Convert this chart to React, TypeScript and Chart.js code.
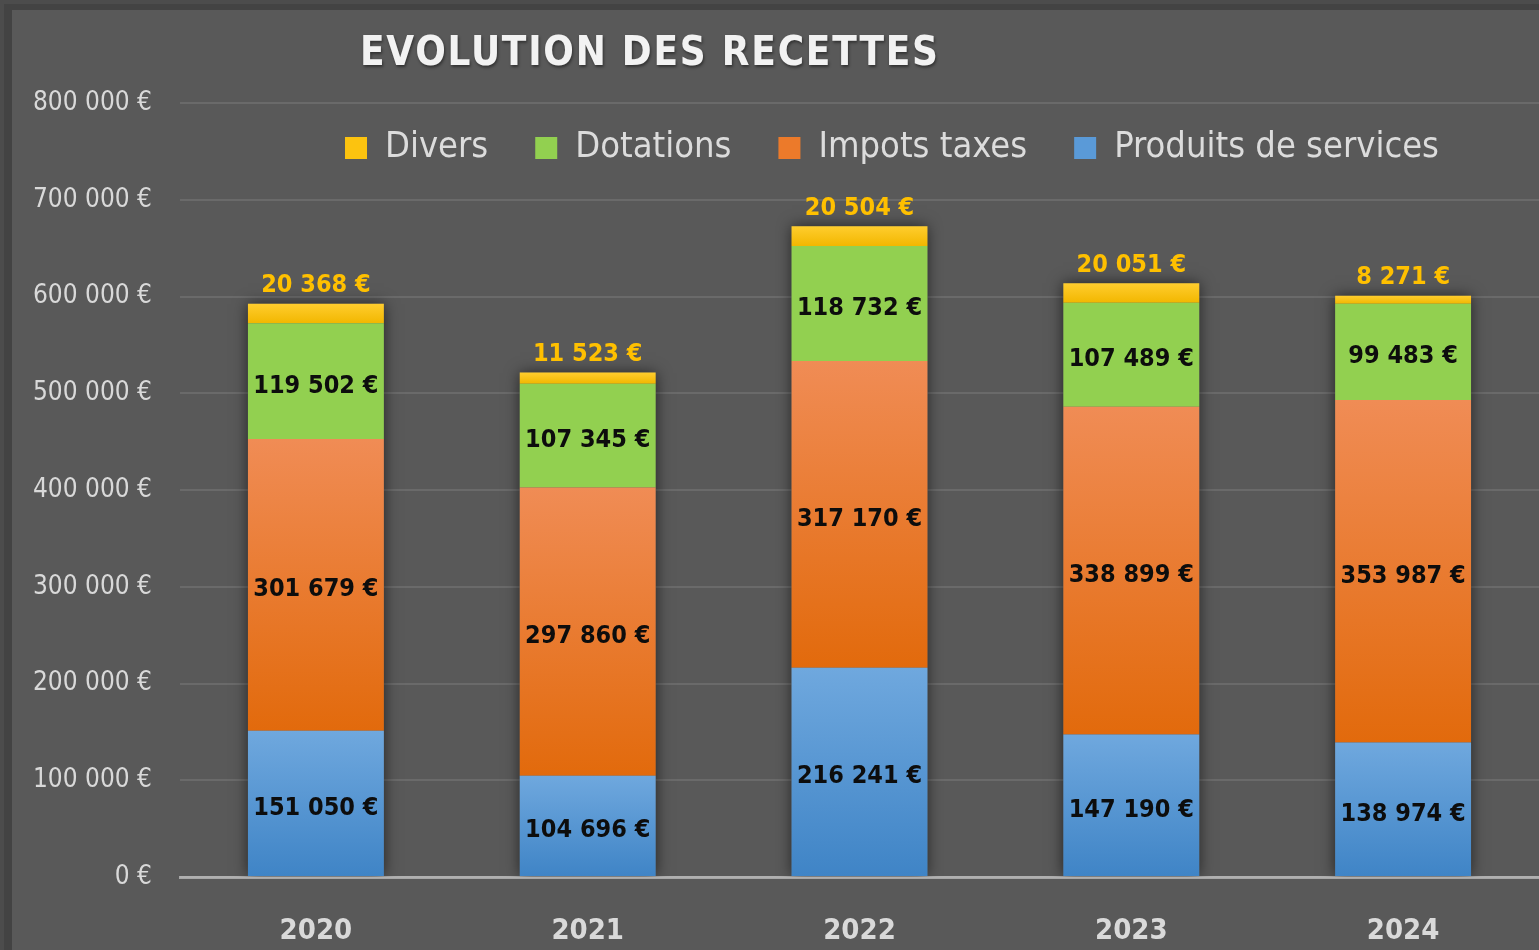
import React, { useEffect, useRef } from "react";
import { Chart, registerables } from "chart.js";

Chart.register(...registerables);

// ---- Data ----
const years = ["2020", "2021", "2022", "2023", "2024"];
const produitsServices = [151050, 104696, 216241, 147190, 138974];
const impotsTaxes = [301679, 297860, 317170, 338899, 353987];
const dotations = [119502, 107345, 118732, 107489, 99483];
const divers = [20368, 11523, 20504, 20051, 8271];

const seriesNames = ["Produits de services", "Impots taxes", "Dotations", "Divers"];
const legendColors = ["#5a9ad8", "#ec7a2a", "#92d050", "#fcc30f"];
const titleText = "EVOLUTION DES RECETTES";
const yMax = 800000;
const yStep = 100000;

const FONT = '"DejaVu Sans Condensed", "Liberation Sans Narrow", "Liberation Sans", sans-serif';

const fmt = (v: number) =>
  String(Math.round(v)).replace(/\B(?=(\d{3})+(?!\d))/g, " ") + " €";

// vertical gradient per stacked segment
const gradientFill = (topColor: string, bottomColor: string, flat: string) => (c: any) => {
  const chart = c.chart;
  if (c.type !== "data" || !chart.chartArea || !chart.scales || !chart.scales.y) return flat;
  const i = c.dataIndex;
  const d = c.datasetIndex;
  let base = 0;
  for (let k = 0; k < d; k++) base += chart.data.datasets[k].data[i] as number;
  const top = base + (chart.data.datasets[d].data[i] as number);
  const y0 = chart.scales.y.getPixelForValue(top);
  const y1 = chart.scales.y.getPixelForValue(base);
  if (!isFinite(y0) || !isFinite(y1) || y0 === y1) return flat;
  const g = chart.ctx.createLinearGradient(0, y0, 0, y1);
  g.addColorStop(0, topColor);
  g.addColorStop(1, bottomColor);
  return g;
};

const shadowPlugin = {
  id: "barShadow",
  beforeDatasetsDraw(chart: any) {
    const ctx = chart.ctx;
    const n = chart.data.datasets.length;
    const bottomMeta = chart.getDatasetMeta(0);
    const topMeta = chart.getDatasetMeta(n - 1);
    const area = chart.chartArea;
    ctx.save();
    ctx.beginPath();
    ctx.rect(area.left, 0, area.right - area.left, area.bottom);
    ctx.clip();
    ctx.shadowColor = "rgba(0,0,0,0.6)";
    ctx.shadowBlur = 14;
    ctx.fillStyle = "#595959";
    bottomMeta.data.forEach((el: any, i: number) => {
      const p = el.getProps(["x", "width", "base"], true);
      const t = topMeta.data[i].getProps(["y"], true);
      ctx.fillRect(p.x - p.width / 2, t.y, p.width, p.base - t.y);
    });
    ctx.restore();
  },
};

const valueLabelsPlugin = {
  id: "valueLabels",
  afterDatasetsDraw(chart: any) {
    const ctx = chart.ctx;
    const n = chart.data.datasets.length;
    ctx.save();
    ctx.textAlign = "center";
    ctx.textBaseline = "middle";
    ctx.font = `bold 25px ${FONT}`;
    chart.data.datasets.forEach((ds: any, d: number) => {
      const meta = chart.getDatasetMeta(d);
      meta.data.forEach((el: any, i: number) => {
        const p = el.getProps(["x", "y", "base"], true);
        const txt = fmt(ds.data[i]);
        if (d === n - 1) {
          ctx.fillStyle = "#FFC000";
          ctx.fillText(txt, p.x, p.y - 18);
        } else {
          ctx.fillStyle = "#0d0d0d";
          ctx.fillText(txt, p.x, (p.y + p.base) / 2 + 5);
        }
      });
    });
    ctx.restore();
  },
};

const titlePlugin = {
  id: "customTitle",
  afterDraw(chart: any) {
    const ctx = chart.ctx;
    ctx.save();
    ctx.font = `bold 40px ${FONT}`;
    const targetWidth = 578;
    (ctx as any).letterSpacing = "0px";
    const w = ctx.measureText(titleText).width;
    const sp = Math.max(0, (targetWidth - w) / (titleText.length - 1));
    (ctx as any).letterSpacing = `${sp}px`;
    ctx.textAlign = "left";
    ctx.textBaseline = "middle";
    ctx.shadowColor = "rgba(0,0,0,0.45)";
    ctx.shadowBlur = 3;
    ctx.shadowOffsetX = 1;
    ctx.shadowOffsetY = 2;
    ctx.fillStyle = "#f2f2f2";
    ctx.fillText(titleText, 348, 45);
    ctx.restore();
  },
};

// move the (library-drawn) legend into the plot area, as in the original
const legendShiftPlugin = {
  id: "legendShift",
  afterLayout(chart: any) {
    const lg = chart.legend;
    if (!lg) return;
    const dx = 880 - (lg.left + lg.right) / 2;
    lg.left += dx;
    lg.right += dx;
    lg.top = 73;
    lg.bottom = 178;
    lg.height = 105;
  },
};

export default function App() {
  const ref = useRef<HTMLCanvasElement>(null);

  useEffect(() => {
    if (!ref.current) return;
    const chart = new Chart(ref.current, {
      type: "bar",
      data: {
        labels: years,
        datasets: [
          {
            label: seriesNames[0],
            data: produitsServices,
            backgroundColor: gradientFill("#6fa8de", "#3f84c6", legendColors[0]),
          },
          {
            label: seriesNames[1],
            data: impotsTaxes,
            backgroundColor: gradientFill("#f08c55", "#e26a0c", legendColors[1]),
          },
          {
            label: seriesNames[2],
            data: dotations,
            backgroundColor: legendColors[2],
          },
          {
            label: seriesNames[3],
            data: divers,
            backgroundColor: gradientFill("#ffcd2e", "#f2b700", legendColors[3]),
          },
        ],
      },
      options: {
        animation: false,
        responsive: true,
        maintainAspectRatio: false,
        layout: { padding: { top: 92, left: 0, right: 0, bottom: 0 } },
        datasets: {
          bar: { barPercentage: 0.5, categoryPercentage: 1.0, borderWidth: 0 },
        },
        scales: {
          x: {
            stacked: true,
            z: 1,
            grid: { display: false, drawTicks: false },
            border: { display: true, color: "rgba(255,255,255,0.47)", width: 3 },
            ticks: {
              color: "#d9d9d9",
              font: { family: FONT, size: 29, weight: "bold" },
              padding: 37,
            },
            afterFit(scale: any) {
              scale.height = 73;
            },
          },
          y: {
            stacked: true,
            min: 0,
            max: yMax,
            grid: { color: "#6a6a6a", lineWidth: 2, drawTicks: false },
            border: { display: false },
            ticks: {
              stepSize: yStep,
              color: "#d9d9d9",
              font: { family: FONT, size: 26 },
              padding: 28,
              callback: (v: any) => fmt(Number(v)),
            },
            afterFit(scale: any) {
              scale.width = 168;
            },
          },
        },
        plugins: {
          title: { display: false },
          tooltip: { enabled: false },
          legend: {
            display: true,
            position: "top",
            maxHeight: 1,
            reverse: true,
            labels: {
              color: "#dcdcdc",
              boxWidth: 22,
              boxHeight: 22,
              padding: 47,
              font: { family: FONT, size: 36 },
              generateLabels: (ch: any) =>
                (Chart.defaults.plugins.legend.labels.generateLabels as any)(ch).map((l: any) => ({
                  ...l,
                  fillStyle: legendColors[l.datasetIndex],
                  strokeStyle: legendColors[l.datasetIndex],
                  lineWidth: 0,
                })),
            },
          },
        },
      } as any,
      plugins: [shadowPlugin, valueLabelsPlugin, titlePlugin, legendShiftPlugin],
    });
    return () => chart.destroy();
  }, []);

  return (
    <div
      style={{
        position: "fixed",
        left: 0,
        top: 0,
        width: 1539,
        height: 950,
        background: "#4c4c4c",
      }}
    >
      <div
        style={{
          position: "absolute",
          left: 4,
          top: 4,
          width: 1535,
          height: 946,
          background: "#434343",
        }}
      />
      <div
        style={{
          position: "absolute",
          left: 12,
          top: 10,
          width: 1527,
          height: 940,
          background: "#595959",
        }}
      >
        <canvas ref={ref} />
      </div>
    </div>
  );
}
